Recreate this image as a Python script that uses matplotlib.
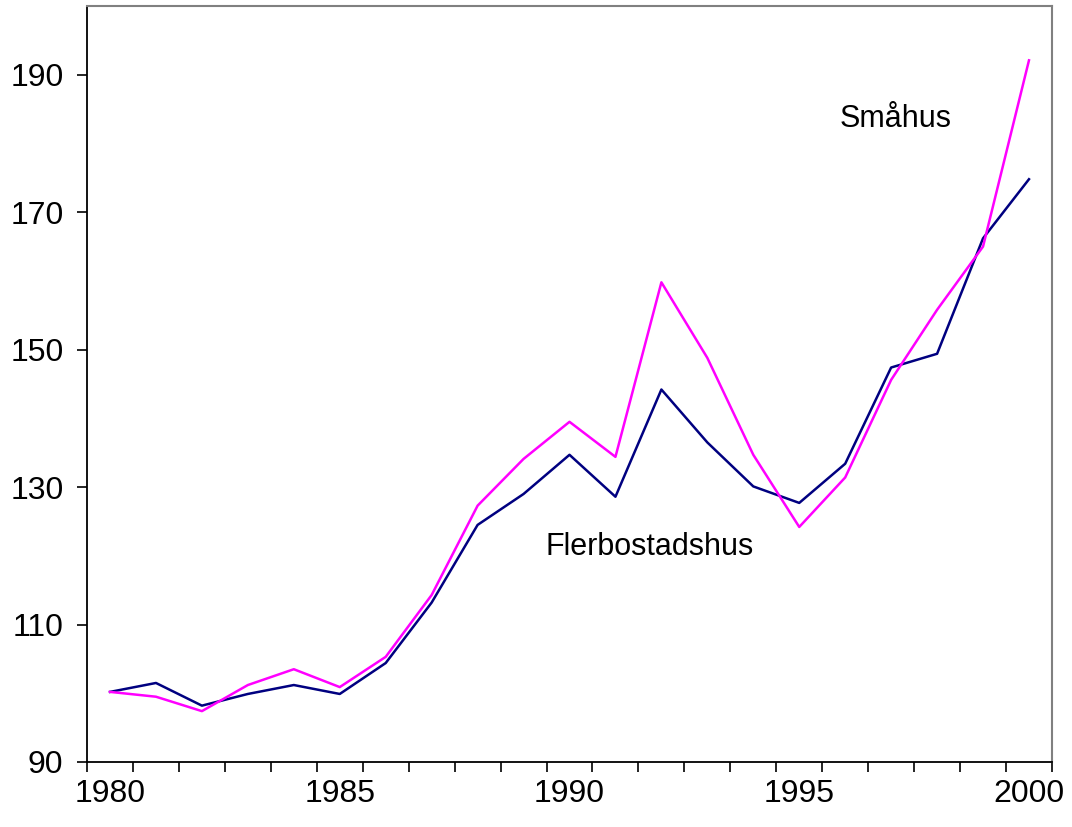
import numpy as np
import matplotlib.pyplot as plt

plt.rcParams['font.family'] = ['Liberation Sans', 'DejaVu Sans']

years = np.arange(1980, 2001)
flerbostadshus = [100.2, 101.5, 98.2, 99.9, 101.2, 99.9, 104.4, 113.2, 124.5, 129.0, 134.7,
                  128.6, 144.2, 136.5, 130.1, 127.7, 133.4, 147.4, 149.4, 166.2, 174.8]
smahus = [100.2, 99.5, 97.4, 101.2, 103.5, 100.9, 105.3, 114.3, 127.3, 134.1, 139.5,
          134.4, 159.8, 148.8, 134.7, 124.2, 131.4, 145.6, 155.8, 165.0, 192.1]
yticks = [90, 110, 130, 150, 170, 190]
xlabels = [1980, 1985, 1990, 1995, 2000]

fig = plt.figure(figsize=(10.72, 8.27), dpi=100)
ax = fig.add_axes([0.0812, 0.0786, 0.9001, 0.9141])

ax.plot(years, flerbostadshus, color='#000080', lw=1.8)
ax.plot(years, smahus, color='#FF00FF', lw=1.8)

ax.set_xlim(1979.5, 2000.5)
ax.set_ylim(90, 200)

ax.set_yticks(yticks)
ax.set_xticks(np.arange(1979.5, 2001, 1))
ax.set_xticklabels([])
ax.set_xticks(xlabels, minor=True)
ax.set_xticklabels([str(x) for x in xlabels], minor=True)
ax.tick_params(axis='x', which='major', length=7, width=1.2, direction='out')
ax.tick_params(axis='x', which='minor', length=0, pad=12, labelsize=23)
ax.tick_params(axis='y', length=7, width=1.2, direction='out', labelsize=23, pad=10)

for s in ['left', 'bottom']:
    ax.spines[s].set_color('black')
    ax.spines[s].set_linewidth(1.3)
for s in ['top', 'right']:
    ax.spines[s].set_color('#808080')
    ax.spines[s].set_linewidth(1.5)

ax.text(1997.1, 183.6, 'Småhus', fontsize=22, ha='center', va='center')
ax.text(1991.75, 121.3, 'Flerbostadshus', fontsize=22, ha='center', va='center')

fig.savefig('out.png', dpi=100)
